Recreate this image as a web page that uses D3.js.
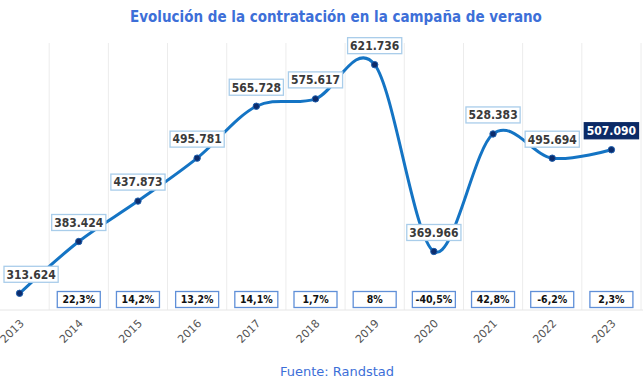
<!DOCTYPE html>
<html>
<head>
<meta charset="utf-8">
<script src="https://cdn.jsdelivr.net/npm/d3@7"></script>
<style>
  body { margin: 0; background: #fff; }
  svg { display: block; }
</style>
</head>
<body>
<div class="chart"></div>
<script>
var years = ["2013", "2014", "2015", "2016", "2017", "2018", "2019", "2020", "2021", "2022", "2023"];
var contratos = [313.624, 383.424, 437.873, 495.781, 565.728, 575.617, 621.736, 369.966, 528.383, 495.694, 507.090];
var variacion = ["", "22,3%", "14,2%", "13,2%", "14,1%", "1,7%", "8%", "-40,5%", "42,8%", "-6,2%", "2,3%"];

var width = 643, height = 388;

var svg = d3.select(".chart")
    .append("svg")
    .attr("width", width)
    .attr("height", height);

var x = d3.scaleBand()
    .domain(years)
    .range([-10, 641])
    .paddingInner(0)
    .paddingOuter(0);

var y = d3.scaleLinear()
    .domain([0, 700])
    .range([526, 6.6]);

var axisY = 310, gridTop = 43;

function cx(d) { return x(d) + x.bandwidth() / 2; }

var fmt = function(v) { return v.toFixed(3); };

// title
svg.append("text")
    .attr("x", 336)
    .attr("y", 22)
    .attr("text-anchor", "middle")
    .style("font-family", "'DejaVu Sans Condensed', 'DejaVu Sans', sans-serif")
    .style("font-weight", "bold")
    .style("font-size", "15px")
    .style("fill", "#3d6fd8")
    .text("Evolución de la contratación en la campaña de verano");

// vertical grid at band edges
svg.append("g")
    .attr("class", "grid")
    .selectAll("line")
    .data(years.slice(1).concat(["end"]))
    .enter().append("line")
    .attr("x1", function(d) { return d == "end" ? 641 : x(d); })
    .attr("x2", function(d) { return d == "end" ? 641 : x(d); })
    .attr("y1", gridTop)
    .attr("y2", axisY)
    .attr("stroke", "#ececec")
    .attr("stroke-width", 1);

svg.append("line")
    .attr("x1", 0).attr("x2", width)
    .attr("y1", axisY).attr("y2", axisY)
    .attr("stroke", "#e6e6e6");

// year labels
svg.append("g")
    .selectAll("text")
    .data(years)
    .enter().append("text")
    .attr("transform", function(d) { return "translate(" + (cx(d) + 5) + "," + (axisY + 14) + ") rotate(-45)"; })
    .attr("text-anchor", "end")
    .style("font-family", "'DejaVu Sans', sans-serif")
    .style("font-size", "11px")
    .style("fill", "#555")
    .text(function(d) { return d; });

// percent boxes
var pct = svg.append("g")
    .selectAll("g")
    .data(years.map(function(d, i) { return {year: d, label: variacion[i]}; }).filter(function(d) { return d.label; }))
    .enter().append("g")
    .attr("transform", function(d) { return "translate(" + cx(d.year) + "," + 299.5 + ")"; });

pct.append("rect")
    .attr("x", -21.5).attr("y", -8)
    .attr("width", 43).attr("height", 16)
    .attr("fill", "#fff")
    .attr("stroke", "#5f8fd8")
    .attr("stroke-width", 1.3);

pct.append("text")
    .attr("text-anchor", "middle")
    .attr("dy", "0.36em")
    .style("font-family", "'DejaVu Sans Condensed', 'DejaVu Sans', sans-serif")
    .style("font-weight", "bold")
    .style("font-size", "10.5px")
    .style("fill", "#111")
    .text(function(d) { return d.label; });

// line
var points = years.map(function(d, i) { return {year: d, value: contratos[i]}; });

var line = d3.line()
    .x(function(d) { return cx(d.year); })
    .y(function(d) { return y(d.value); })
    .curve(d3.curveCardinal.tension(0));

svg.append("path")
    .datum(points)
    .attr("d", line)
    .attr("fill", "none")
    .attr("stroke", "#1474c4")
    .attr("stroke-width", 3)
    .attr("stroke-linecap", "round");

svg.append("g")
    .selectAll("circle")
    .data(points)
    .enter().append("circle")
    .attr("cx", function(d) { return cx(d.year); })
    .attr("cy", function(d) { return y(d.value); })
    .attr("r", 3.2)
    .attr("fill", "#0c2c6c")
    .attr("stroke", "#1d5fae")
    .attr("stroke-width", 1);

// value labels
var lab = svg.append("g")
    .selectAll("g")
    .data(points)
    .enter().append("g");

lab.each(function(d, i) {
    var g = d3.select(this);
    var last = i == points.length - 1;
    var t = g.append("text")
        .attr("text-anchor", "middle")
        .attr("dy", "0.36em")
        .style("font-family", "'DejaVu Sans Condensed', 'DejaVu Sans', sans-serif")
        .style("font-weight", "bold")
        .style("font-size", "12px")
        .style("fill", last ? "#fff" : "#3a3a3a")
        .text(fmt(d.value));
    var w = t.node().getComputedTextLength() + 5;
    var px = cx(d.year), py = y(d.value) - 19;
    px = Math.max(4 + w / 2, Math.min(640 - w / 2, px));
    g.attr("transform", "translate(" + px + "," + py + ")");
    g.insert("rect", "text")
        .attr("x", -w / 2).attr("y", -8)
        .attr("width", w).attr("height", 16)
        .attr("fill", last ? "#0b2a66" : "#fff")
        .attr("stroke", last ? "#0b2a66" : "#a9cdea")
        .attr("stroke-width", 1.3);
});

// source
svg.append("text")
    .attr("x", 337)
    .attr("y", 376)
    .attr("text-anchor", "middle")
    .style("font-family", "'DejaVu Sans', sans-serif")
    .style("font-size", "13px")
    .style("fill", "#3d6fd8")
    .text("Fuente: Randstad");
</script>
</body>
</html>
